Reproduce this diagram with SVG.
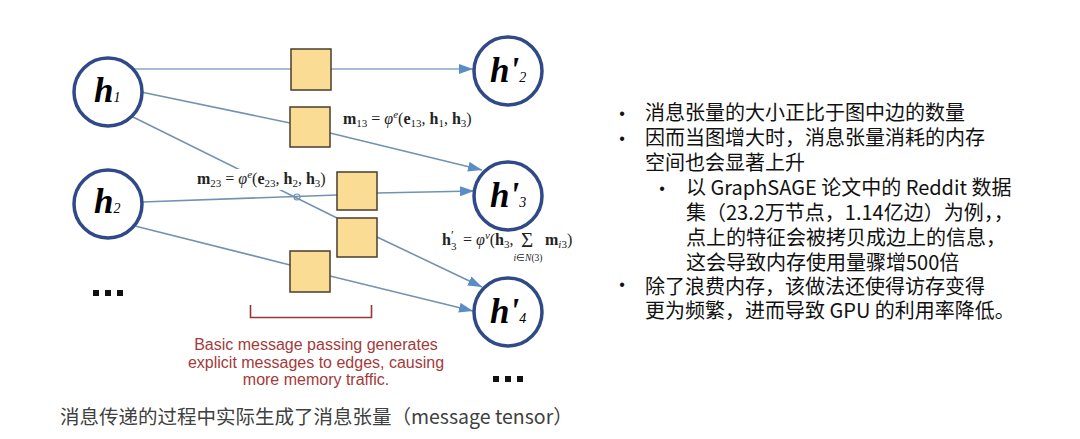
<svg xmlns="http://www.w3.org/2000/svg" width="1080" height="439" viewBox="0 0 1080 439">
<defs>
<style>
.edge{stroke:#7392b0;stroke-width:1.6;fill:none}
.edge2{stroke:#86a7c6;stroke-width:1.6;fill:none}
.arr{marker-end:url(#ah)}
.node{fill:#ffffff;stroke:#2f4a86;stroke-width:3.5}
.msg{fill:#fadc95;stroke:#4a3d2c;stroke-width:1.5}
.lbl{font-family:"Liberation Serif",serif;font-style:italic;font-weight:bold;fill:#000}
.math{font-family:"Liberation Serif",serif;font-size:16px;fill:#222}
.b{font-weight:bold}
.s{font-size:11px}
.red{font-family:"Liberation Sans",Arial,sans-serif;font-size:16px;fill:#a43a3a;text-anchor:middle}
.cn{font-family:"Noto Sans CJK SC",sans-serif;font-size:20px;fill:#111}
.bul{font-family:"Liberation Sans",Arial,sans-serif;font-size:16px;fill:#111;text-anchor:middle}
.cap{font-family:"Noto Sans CJK SC",sans-serif;font-size:19.5px;fill:#404040}
.dot{fill:#111}
</style>
<marker id="ah" markerWidth="14" markerHeight="10" refX="14" refY="5" orient="auto" markerUnits="userSpaceOnUse">
<path d="M0,0 L14,5 L0,10 Z" fill="#5a8dc5"/>
</marker>
</defs>
<rect width="1080" height="439" fill="#ffffff"/>

<g id="connectors">
<line class="edge2 arr" x1="133" y1="69" x2="473" y2="69"/>
<line class="edge" x1="141" y1="92" x2="290" y2="123"/>
<line class="edge arr" x1="330" y1="133" x2="482" y2="170"/>
<line class="edge" x1="133" y1="117" x2="337" y2="218"/>
<line class="edge arr" x1="377" y1="237" x2="482" y2="287"/>
<line class="edge" x1="142" y1="202" x2="337" y2="195"/>
<line class="edge arr" x1="377" y1="193" x2="474" y2="191"/>
<line class="edge" x1="135" y1="226" x2="290" y2="265"/>
<line class="edge arr" x1="330" y1="276" x2="473" y2="311"/>
<circle cx="297" cy="197" r="3" fill="none" stroke="#7392b0" stroke-width="1.2"/>
</g>

<g id="h1"><circle class="node" cx="108" cy="92" r="34"/><text class="lbl" x="94" y="102" font-size="35">h<tspan font-size="14" font-weight="normal">1</tspan></text></g>
<g id="h2"><circle class="node" cx="108" cy="204" r="34"/><text class="lbl" x="94" y="213" font-size="35">h<tspan font-size="14" font-weight="normal">2</tspan></text></g>
<g id="h2p"><circle class="node" cx="508" cy="71" r="34"/><text class="lbl" x="490" y="82" font-size="35">h'<tspan font-size="14" font-weight="normal">2</tspan></text></g>
<g id="h3p"><circle class="node" cx="508" cy="196" r="34"/><text class="lbl" x="490" y="207" font-size="35">h'<tspan font-size="14" font-weight="normal">3</tspan></text></g>
<g id="h4p"><circle class="node" cx="508" cy="312" r="34"/><text class="lbl" x="490" y="323" font-size="35">h'<tspan font-size="14" font-weight="normal">4</tspan></text></g>

<g id="m12"><rect class="msg" x="291" y="49" width="40" height="41"/></g>
<g id="m13"><rect class="msg" x="290" y="107" width="40" height="40"/>
<text class="math" x="343" y="124"><tspan class="b">m</tspan><tspan class="s" dy="3">13</tspan><tspan dy="-3"> = </tspan><tspan font-style="italic">φ</tspan><tspan class="s" dy="-6" font-style="italic">e</tspan><tspan dy="6">(</tspan><tspan class="b">e</tspan><tspan class="s" dy="3">13</tspan><tspan dy="-3">, </tspan><tspan class="b">h</tspan><tspan class="s" dy="3">1</tspan><tspan dy="-3">, </tspan><tspan class="b">h</tspan><tspan class="s" dy="3">3</tspan><tspan dy="-3">)</tspan></text></g>
<g id="m23"><rect x="195" y="169" width="140" height="21" fill="#ffffff"/>
<text class="math" x="197" y="184"><tspan class="b">m</tspan><tspan class="s" dy="3">23</tspan><tspan dy="-3"> = </tspan><tspan font-style="italic">φ</tspan><tspan class="s" dy="-6" font-style="italic">e</tspan><tspan dy="6">(</tspan><tspan class="b">e</tspan><tspan class="s" dy="3">23</tspan><tspan dy="-3">, </tspan><tspan class="b">h</tspan><tspan class="s" dy="3">2</tspan><tspan dy="-3">, </tspan><tspan class="b">h</tspan><tspan class="s" dy="3">3</tspan><tspan dy="-3">)</tspan></text>
<rect class="msg" x="337" y="172" width="40" height="38"/></g>
<g id="m14"><rect class="msg" x="337" y="218" width="40" height="39"/></g>
<g id="m24"><rect class="msg" x="290" y="251" width="40" height="41"/></g>

<g id="update">
<text class="math"><tspan x="442" y="245" class="b">h</tspan><tspan x="451" y="239" style="font-size:13px">′</tspan><tspan x="451" y="250" class="s">3</tspan><tspan x="459" y="245"> = </tspan><tspan font-style="italic">φ</tspan><tspan class="s" dy="-6" font-style="italic">v</tspan><tspan dy="6">(</tspan><tspan class="b">h</tspan><tspan class="s" dy="3">3</tspan><tspan dy="-3">,</tspan></text>
<text class="math" x="527" y="247" style="font-size:21px" text-anchor="middle">Σ</text>
<text class="math" x="528" y="261" style="font-size:9.5px" text-anchor="middle"><tspan font-style="italic">i</tspan>∈<tspan font-style="italic">N</tspan>(3)</text>
<text class="math" x="545" y="245"><tspan class="b">m</tspan><tspan class="s" dy="3" font-style="italic">i</tspan><tspan class="s">3</tspan><tspan dy="-3">)</tspan></text>
</g>

<g id="dots">
<rect class="dot" x="93" y="290" width="6" height="6"/><rect class="dot" x="105" y="290" width="6" height="6"/><rect class="dot" x="117" y="290" width="6" height="6"/>
<rect class="dot" x="493" y="376" width="6" height="6"/><rect class="dot" x="505" y="376" width="6" height="6"/><rect class="dot" x="517" y="376" width="6" height="6"/>
</g>

<g id="bracket">
<path d="M250.5,305 V317.5 H371.5 V305" fill="none" stroke="#9b3535" stroke-width="1.6"/>
<text class="red" x="316" y="350">Basic message passing generates</text>
<text class="red" x="316" y="368">explicit messages to edges, causing</text>
<text class="red" x="316" y="385">more memory traffic.</text>
</g>

<g id="notes">
<text class="bul" x="622" y="119">•</text><text class="cn" x="645" y="120">消息张量的大小正比于图中边的数量</text>
<text class="bul" x="622" y="144">•</text><text class="cn" x="645" y="145">因而当图增大时，消息张量消耗的内存</text>
<text class="cn" x="645" y="170">空间也会显著上升</text>
<text class="bul" x="662" y="194">•</text><text class="cn" x="686" y="195">以 GraphSAGE 论文中的 Reddit 数据</text>
<text class="cn" x="686" y="220">集（23.2万节点，1.14亿边）为例，，</text>
<text class="cn" x="686" y="245">点上的特征会被拷贝成边上的信息，</text>
<text class="cn" x="686" y="270">这会导致内存使用量骤增500倍</text>
<text class="bul" x="622" y="290">•</text><text class="cn" x="645" y="294">除了浪费内存，该做法还使得访存变得</text>
<text class="cn" x="645" y="318">更为频繁，进而导致 GPU 的利用率降低。</text>
</g>

<text class="cap" x="60" y="424">消息传递的过程中实际生成了消息张量（message tensor）</text>
</svg>
